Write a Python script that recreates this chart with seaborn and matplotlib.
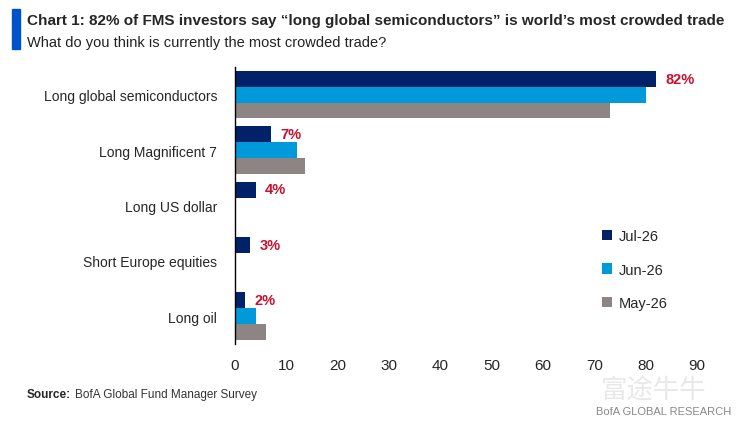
import numpy as np
import pandas as pd
import matplotlib
matplotlib.use('Agg')
import matplotlib.pyplot as plt
import seaborn as sns
from matplotlib.patches import Rectangle

# 数据
trades = ['Long global semiconductors', 'Long Magnificent 7', 'Long US dollar',
          'Short Europe equities', 'Long oil']
months = ['Jul-26', 'Jun-26', 'May-26']
jul = [82, 7, 4, 3, 2]
jun = [80, 12, 0, 0, 4]
may = [73, 13.6, 0, 0, 6]
xticks = [0, 10, 20, 30, 40, 50, 60, 70, 80, 90]

colors = ['#012169', '#009ADA', '#8D8584']
red = '#C8102E'

df = pd.DataFrame({
    'trade': trades * 3,
    'month': [m for m in months for _ in trades],
    'value': jul + jun + may,
})

sns.set_style('white')
plt.rcParams['font.family'] = ['Liberation Sans', 'DejaVu Sans']

fig = plt.figure(figsize=(7.51, 4.27), dpi=100)
ax = fig.add_axes([0.313, 0.192, 0.615, 0.649])

sns.barplot(data=df, y='trade', x='value', hue='month', orient='h',
            palette=colors, width=0.86, ax=ax, saturation=1, legend=True,
            linewidth=0)

ax.set_xlim(0, 90)
ax.set_xticks(xticks)
ax.set_xlabel('')
ax.set_ylabel('')
ax.tick_params(axis='x', labelsize=11, length=0, pad=10)
ax.tick_params(axis='y', labelsize=10, length=0, pad=13)
for s in ['top', 'right', 'bottom']:
    ax.spines[s].set_visible(False)
ax.spines['left'].set_color('black')
ax.spines['left'].set_linewidth(1)

# 标签
for i, v in enumerate(jul):
    ax.text(v + 1.8, i - 0.29, f'{v}%', color=red, fontsize=10.5,
            fontweight='bold', va='center', ha='left')

leg = ax.legend(loc='upper left', bbox_to_anchor=(0.795, 0.415), frameon=False,
                fontsize=10.5, labelspacing=1.35, handlelength=0.7,
                handleheight=0.7, handletextpad=0.4, borderpad=0, borderaxespad=0)

# 标题
fig.patches.append(Rectangle((0.016, 0.882), 0.011, 0.095, transform=fig.transFigure,
                             color='#0052CC', zorder=5))
fig.text(0.036, 0.95, 'Chart 1: 82% of FMS investors say \u201clong global semiconductors\u201d is world\u2019s most crowded trade',
         fontsize=11, fontweight='bold', va='center', ha='left')
fig.text(0.036, 0.9, 'What do you think is currently the most crowded trade?',
         fontsize=10.5, va='center', ha='left', color='#222222')

fig.text(0.036, 0.075, 'Source:', fontsize=8.5, fontweight='bold', va='center')
fig.text(0.1, 0.075, 'BofA Global Fund Manager Survey', fontsize=8.5, va='center', color='#333333')
fig.text(0.794, 0.035, 'BofA GLOBAL RESEARCH', fontsize=8, va='center', color='#888888')
fig.text(0.8, 0.083, '富途牛牛', fontsize=19, va='center', color='#E8E8E8',
         family=['Noto Sans CJK SC', 'DejaVu Sans'], zorder=0)

fig.savefig('out.png', dpi=100)
